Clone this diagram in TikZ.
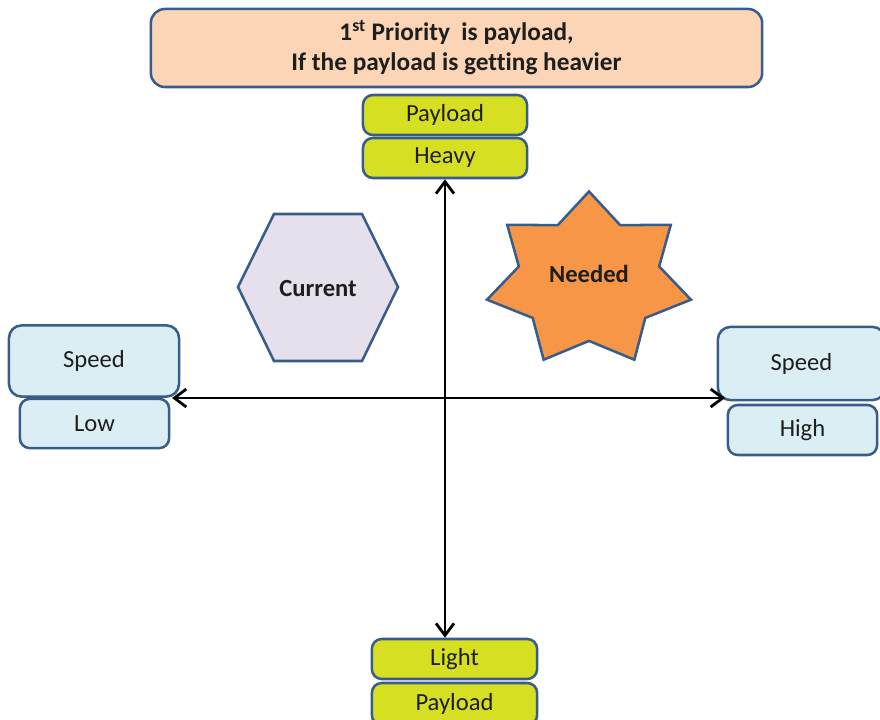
\documentclass[tikz,border=0pt]{standalone}
\usepackage{fontspec}
\setmainfont{Carlito}[Ligatures={TeX,NoCommon}]
\usepackage{xcolor}
\definecolor{edgeblue}{RGB}{56,93,138}
\definecolor{inkgray}{RGB}{30,30,30}
\definecolor{peach}{RGB}{251,213,181}
\definecolor{limegreen}{RGB}{215,223,35}
\definecolor{iceblue}{RGB}{219,238,244}
\definecolor{lavender}{RGB}{229,224,236}
\definecolor{starorange}{RGB}{247,150,70}
\usetikzlibrary{arrows.meta,positioning}

\tikzset{
  box/.style={draw=edgeblue, line width=1.8pt, rounded corners=7pt, align=center,
    font=\fontsize{17.5}{20}\selectfont, text=inkgray, inner sep=0pt},
  greenbox/.style={box, fill=limegreen, minimum width=4.1cm, minimum height=1.0cm},
  bluebox/.style={box, fill=iceblue},
  shapeedge/.style={draw=edgeblue, line width=1.8pt, line join=miter},
  axis/.style={line width=2pt, black, {Straight Barb[length=3mm,width=4.5mm]}-{Straight Barb[length=3mm,width=4.5mm]}}
}

\begin{document}
\begin{tikzpicture}[x=0.025cm, y=0.025cm]
  \useasboundingbox (0,0) rectangle (880,-720);

  % Heading
  \node[box, fill=peach, rounded corners=10pt, minimum width=15.28cm, minimum height=1.95cm,
        font=\fontsize{18}{21.5}\selectfont\bfseries] (title) at (456.5,-48)
        {1\textsuperscript{st} Priority\ \ is payload,\\If the payload is getting heavier};

  % Payload axis ends
  \node[greenbox] (payloadtop) at (445,-115) {Payload};
  \node[greenbox] (heavy) at (445,-158) {Heavy};
  \node[greenbox, minimum width=4.13cm] (light) at (454.5,-659) {Light};
  \node[greenbox, minimum width=4.13cm, minimum height=1.05cm] (payloadbot) at (454.5,-704) {Payload};

  % Speed axis ends
  \node[bluebox, minimum width=4.25cm, minimum height=1.78cm, rounded corners=9pt] (speedleft) at (94,-361) {Speed};
  \node[bluebox, minimum width=3.73cm, minimum height=1.23cm] (low) at (94.5,-423.5) {Low};
  \node[bluebox, minimum width=4.18cm, minimum height=1.83cm, rounded corners=9pt] (speedright) at (801.5,-363.5) {Speed};
  \node[bluebox, minimum width=3.73cm, minimum height=1.25cm] (high) at (802.5,-430) {High};

  % Axes
  \coordinate (west) at (172,-398);
  \coordinate (east) at (725,-398);
  \draw[axis] (heavy.south) -- (heavy.south |- light.north);
  \draw[axis] (west) -- (east);

  % Current state (hexagon)
  \draw[shapeedge, fill=lavender] (238,-287) -- (274,-214) -- (362,-214) -- (398,-287)
    -- (362,-361) -- (274,-361) -- cycle;
  \node[font=\fontsize{17.5}{20}\selectfont\bfseries, text=inkgray] (current) at (318,-289) {Current};

  % Needed state (seven-point star)
  \begin{scope}[shift={(589,-280)}]
    \draw[shapeedge, fill=starorange] (90:104.6 and 88.5)
      \foreach \k [evaluate=\k as \rr using {mod(\k,2)==0 ? 1 : 0.688}] in {1,...,13}
        { -- ({90+\k*180/7}:{\rr*104.6} and {\rr*88.5}) } -- cycle;
  \end{scope}
  \node[font=\fontsize{17.5}{20}\selectfont\bfseries, text=inkgray] (needed) at (589,-274) {Needed};
\end{tikzpicture}
\end{document}
